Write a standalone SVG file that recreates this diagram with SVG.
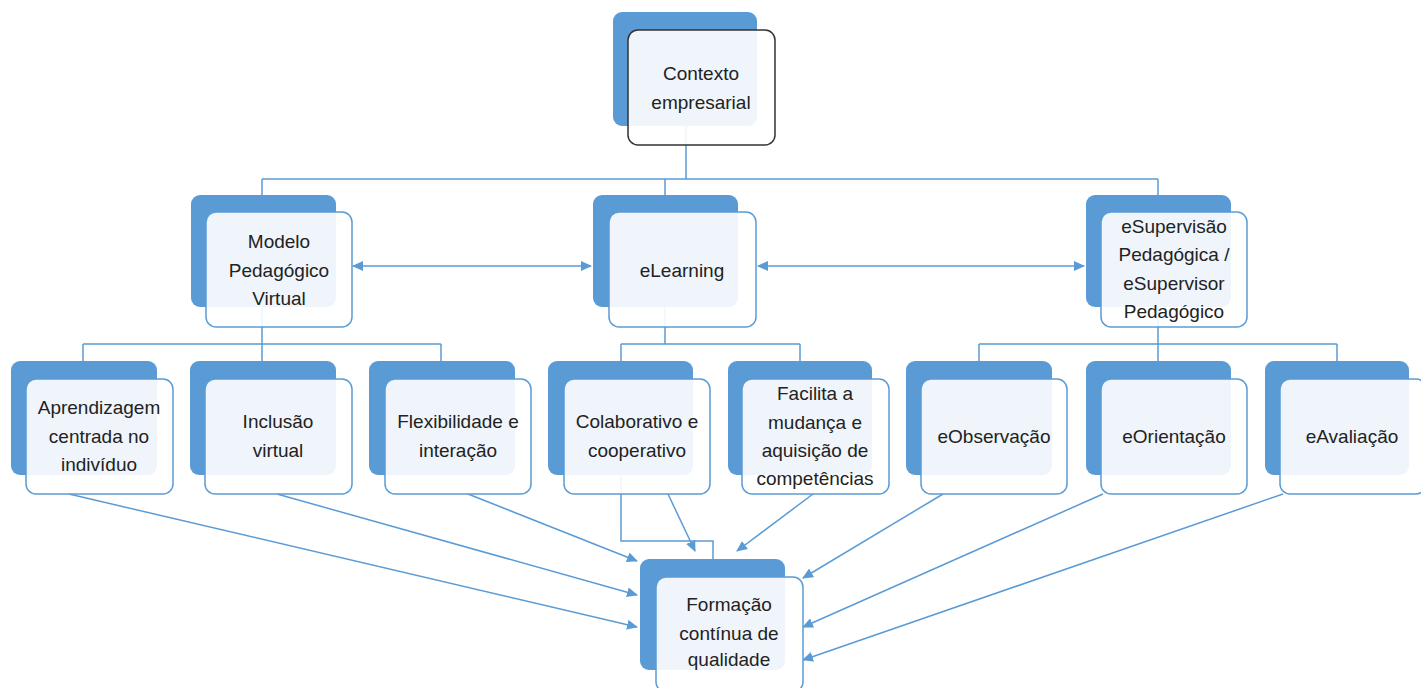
<svg xmlns="http://www.w3.org/2000/svg" width="1421" height="688" viewBox="0 0 1421 688">
  <defs>
    <marker id="arrow" markerUnits="userSpaceOnUse" markerWidth="11" markerHeight="10" refX="10" refY="5" orient="auto-start-reverse">
      <path d="M0,0 L11,5 L0,10 z" fill="#5b9bd5"/>
    </marker>
    <style>
      .back { fill: #5b9bd5; }
      .front { fill: #ffffff; fill-opacity: 0.9; stroke: #5b9bd5; stroke-width: 1.5; }
      .front.dark { stroke: #333333; }
      .wire { fill: none; stroke: #5b9bd5; stroke-width: 1.5; }
      .arr { fill: none; stroke: #5b9bd5; stroke-width: 1.5; marker-end: url(#arrow); }
      .both { marker-start: url(#arrow); }
      text { font-family: "Liberation Sans", Arial, sans-serif; font-size: 19px; fill: #222222; text-anchor: middle; }
    </style>
  </defs>
  <rect width="1421" height="688" fill="#ffffff"/>

  <!-- connectors -->
  <g id="connectors">
    <!-- hierarchy lines -->
    <path class="wire" d="M686 126 V179 M262 179 H1158 M262 179 V195 M665 179 V195 M1158 179 V195"/>
    <path class="wire" d="M262 307 V344 M83 344 H441 M83 344 V361 M262 344 V361 M441 344 V361"/>
    <path class="wire" d="M665 307 V344 M621 344 H800 M621 344 V361 M800 344 V361"/>
    <path class="wire" d="M1158 307 V344 M979 344 H1337 M979 344 V361 M1158 344 V361 M1337 344 V361"/>
    <path class="wire" d="M621 475 V541 H713 V559"/>
    <!-- two-way links between second-level nodes -->
    <path class="arr both" d="M353 266 H591"/>
    <path class="arr both" d="M758 266 H1084"/>
    <!-- links into the outcome node -->
    <path class="arr" d="M69 494 L637 627"/>
    <path class="arr" d="M277 494 L637 595"/>
    <path class="arr" d="M468 494 L637 561"/>
    <path class="arr" d="M668 494 L695 551"/>
    <path class="arr" d="M813 494 L737 551"/>
    <path class="arr" d="M943 494 L803 578"/>
    <path class="arr" d="M1103 494 L803 627"/>
    <path class="arr" d="M1283 494 L803 660"/>
  </g>

  <!-- top -->
  <g id="contexto">
    <rect class="back" x="613" y="12" width="144" height="114" rx="9"/>
    <rect class="front dark" x="628" y="30" width="147" height="115" rx="10"/>
    <text x="701" y="80">Contexto</text>
    <text x="701" y="109">empresarial</text>
  </g>

  <!-- second level -->
  <g id="modelo">
    <rect class="back" x="191" y="195" width="145" height="112" rx="9"/>
    <rect class="front" x="206" y="212" width="146" height="115" rx="10"/>
    <text x="279" y="248">Modelo</text>
    <text x="279" y="277">Pedagógico</text>
    <text x="279" y="305">Virtual</text>
  </g>
  <g id="elearning">
    <rect class="back" x="593" y="195" width="145" height="112" rx="9"/>
    <rect class="front" x="609" y="212" width="147" height="115" rx="10"/>
    <text x="682" y="277">eLearning</text>
  </g>
  <g id="esupervisao">
    <rect class="back" x="1086" y="195" width="145" height="112" rx="9"/>
    <rect class="front" x="1101" y="212" width="146" height="115" rx="10"/>
    <text x="1174" y="233">eSupervisão</text>
    <text x="1174" y="261">Pedagógica /</text>
    <text x="1174" y="290">eSupervisor</text>
    <text x="1174" y="318">Pedagógico</text>
  </g>

  <!-- third level -->
  <g id="aprendizagem">
    <rect class="back" x="11" y="361" width="146" height="114" rx="9"/>
    <rect class="front" x="26" y="379" width="147" height="115" rx="10"/>
    <text x="99" y="414">Aprendizagem</text>
    <text x="99" y="443">centrada no</text>
    <text x="99" y="471">indivíduo</text>
  </g>
  <g id="inclusao">
    <rect class="back" x="190" y="361" width="146" height="114" rx="9"/>
    <rect class="front" x="205" y="379" width="147" height="115" rx="10"/>
    <text x="278" y="428">Inclusão</text>
    <text x="278" y="457">virtual</text>
  </g>
  <g id="flexibilidade">
    <rect class="back" x="369" y="361" width="146" height="114" rx="9"/>
    <rect class="front" x="385" y="379" width="146" height="115" rx="10"/>
    <text x="458" y="428">Flexibilidade e</text>
    <text x="458" y="457">interação</text>
  </g>
  <g id="colaborativo">
    <rect class="back" x="548" y="361" width="145" height="114" rx="9"/>
    <rect class="front" x="564" y="379" width="146" height="115" rx="10"/>
    <text x="637" y="428">Colaborativo e</text>
    <text x="637" y="457">cooperativo</text>
  </g>
  <g id="facilita">
    <rect class="back" x="728" y="361" width="144" height="114" rx="9"/>
    <rect class="front" x="742" y="379" width="147" height="115" rx="10"/>
    <text x="815" y="400">Facilita a</text>
    <text x="815" y="429">mudança e</text>
    <text x="815" y="457">aquisição de</text>
    <text x="815" y="485">competências</text>
  </g>
  <g id="eobservacao">
    <rect class="back" x="906" y="361" width="146" height="114" rx="9"/>
    <rect class="front" x="921" y="379" width="146" height="115" rx="10"/>
    <text x="994" y="443">eObservação</text>
  </g>
  <g id="eorientacao">
    <rect class="back" x="1086" y="361" width="145" height="114" rx="9"/>
    <rect class="front" x="1101" y="379" width="146" height="115" rx="10"/>
    <text x="1174" y="443">eOrientação</text>
  </g>
  <g id="eavaliacao">
    <rect class="back" x="1265" y="361" width="144" height="114" rx="9"/>
    <rect class="front" x="1280" y="379" width="146" height="115" rx="10"/>
    <text x="1352" y="443">eAvaliação</text>
  </g>

  <!-- outcome -->
  <g id="formacao">
    <rect class="back" x="640" y="559" width="145" height="111" rx="9"/>
    <rect class="front" x="656" y="577" width="147" height="115" rx="10"/>
    <text x="729" y="611">Formação</text>
    <text x="729" y="640">contínua de</text>
    <text x="729" y="666">qualidade</text>
  </g>
</svg>
